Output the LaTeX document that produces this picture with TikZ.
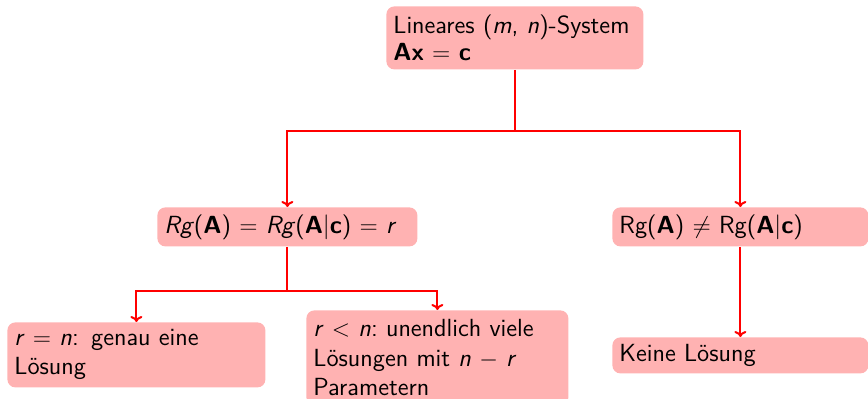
\documentclass[tikz,border=0pt]{standalone}
\usepackage{fontspec}
\usetikzlibrary{arrows.meta}
\tikzset{
  box/.style={draw=none, fill=red!30, rounded corners=4pt, anchor=north west,
    inner xsep=3.5pt, inner ysep=0pt, align=left, font=\sffamily\fontsize{12.4}{13.5}\selectfont},
  conn/.style={draw=red, line width=1pt, -{To[length=3pt,width=6pt]}},
  line/.style={draw=red, line width=1pt},
}
\newcommand{\mb}[1]{\textbf{#1}}
\begin{document}
\begin{tikzpicture}[x=0.5pt, y=-0.5pt]
  \useasboundingbox (0,0) rectangle (868,398);
  % top: the system
  \node[box, text width=121.5pt, minimum height=31.5pt] (top) at (386,6)
    {Lineares (\textit{m}, \textit{n})-System\\ \mb{Ax} $=$ \mb{c}};
  % rank cases
  \node[box, text width=123pt, minimum height=19.5pt] (midL) at (157,207)
    {\textit{Rg}(\mb{A}) $=$ \textit{Rg}(\mb{A}|\mb{c}) $=$ \textit{r}};
  \node[box, text width=121pt, minimum height=19.5pt] (midR) at (612,207)
    {Rg(\mb{A}) $\neq$ Rg(\mb{A}|\mb{c})};
  % outcomes
  \node[box, text width=122pt, minimum height=32.5pt,
        font=\sffamily\fontsize{12.4}{14.5}\selectfont] (botL) at (7,322)
    {\makebox[88.5pt][s]{\textit{r} $=$ \textit{n}: genau eine}\\ Lösung};
  \node[box, text width=124pt, minimum height=47.5pt,
        font=\sffamily\fontsize{12.4}{14.8}\selectfont] (botM) at (306,310)
    {\textit{r} $<$ \textit{n}:\ unendlich viele\\ Lösungen mit \textit{n} $-$ \textit{r}\\ Parametern};
  \node[box, text width=121pt, minimum height=18pt] (botR) at (612,337)
    {Keine Lösung};
  % connectors
  \path (top.south) ++(0,61) coordinate (j1);
  \path (midL.south) ++(0,44) coordinate (j2);
  \draw[line] (top.south) -- (j1);
  \draw[conn] (j1) -| (midL.north);
  \draw[conn] (j1) -| (midR.north);
  \draw[line] (midL.south) -- (j2);
  \draw[conn] (j2) -| (botL.north);
  \draw[conn] (j2) -| (botM.north);
  \draw[conn] (midR.south) -- (botR.north);
\end{tikzpicture}
\end{document}
